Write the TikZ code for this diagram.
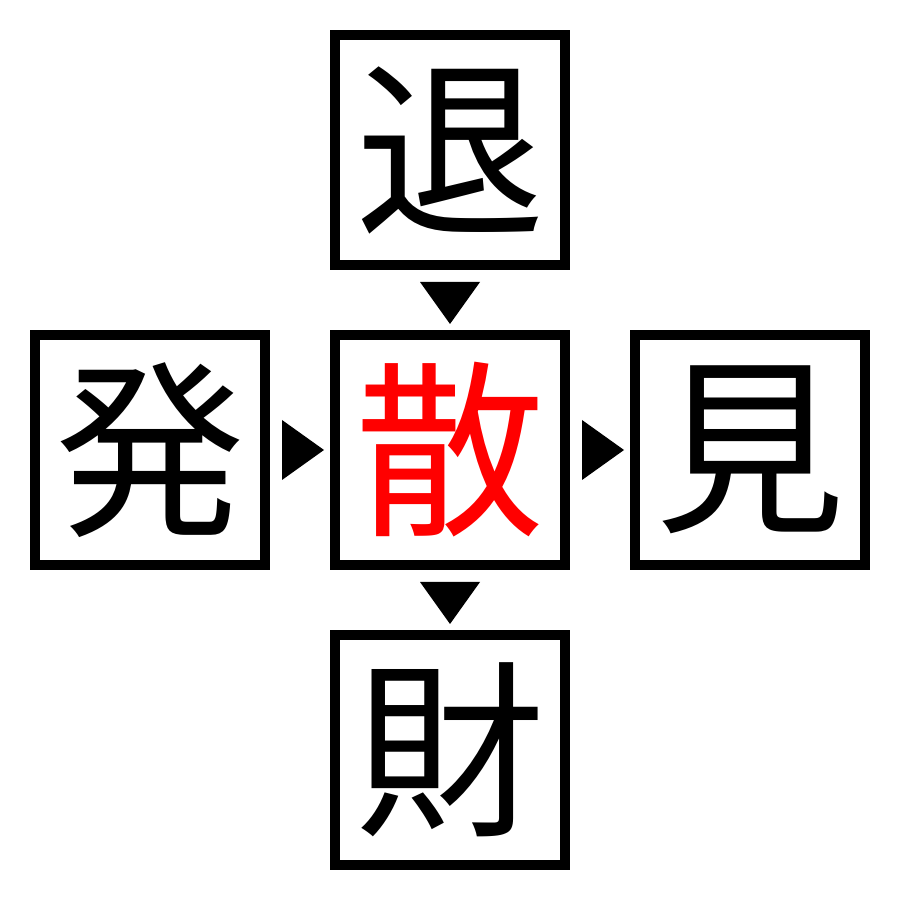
\documentclass[tikz,border=0pt]{standalone}
\usepackage{fontspec}
\newfontfamily\cjk{Noto Sans CJK JP}
\usetikzlibrary {positioning}

\tikzset{
  kanji/.style={draw, line width=0.1cm, minimum size=2.3cm, inner sep=0pt,
    font=\cjk\fontsize{54}{54}\selectfont},
  tri/.style={fill=black}
}

\begin{document}
\begin{tikzpicture}
      % Canvas of the reference: 9cm by 9cm
      \useasboundingbox (0,0) rectangle (9,9);

      % The five boxes, placed round the central one
      \node[kanji, text=red] (mid) at (4.5,4.5) {散};
      \node[kanji, above=0.6cm of mid] (top) {退};
      \node[kanji, below=0.6cm of mid] (bot) {財};
      \node[kanji, left=0.6cm of mid] (lft) {発};
      \node[kanji, right=0.6cm of mid] (rgt) {見};

      % Midpoints of the gaps
      \path (top.south) -- (mid.north) coordinate[midway] (tm);
      \path (mid.south) -- (bot.north) coordinate[midway] (mb);
      \path (lft.east) -- (mid.west) coordinate[midway] (lm);
      \path (mid.east) -- (rgt.west) coordinate[midway] (mr);

      % Triangles pointing down
      \fill[tri] (tm) ++(-0.3,0.18) -- ++(0.6,0) -- ++(-0.3,-0.42) -- cycle;
      \fill[tri] (mb) ++(-0.3,0.18) -- ++(0.6,0) -- ++(-0.3,-0.42) -- cycle;
      % Triangles pointing right
      \fill[tri] (lm) ++(-0.18,0.3) -- ++(0,-0.6) -- ++(0.42,0.3) -- cycle;
      \fill[tri] (mr) ++(-0.18,0.3) -- ++(0,-0.6) -- ++(0.42,0.3) -- cycle;

  \end{tikzpicture}
\end{document}
